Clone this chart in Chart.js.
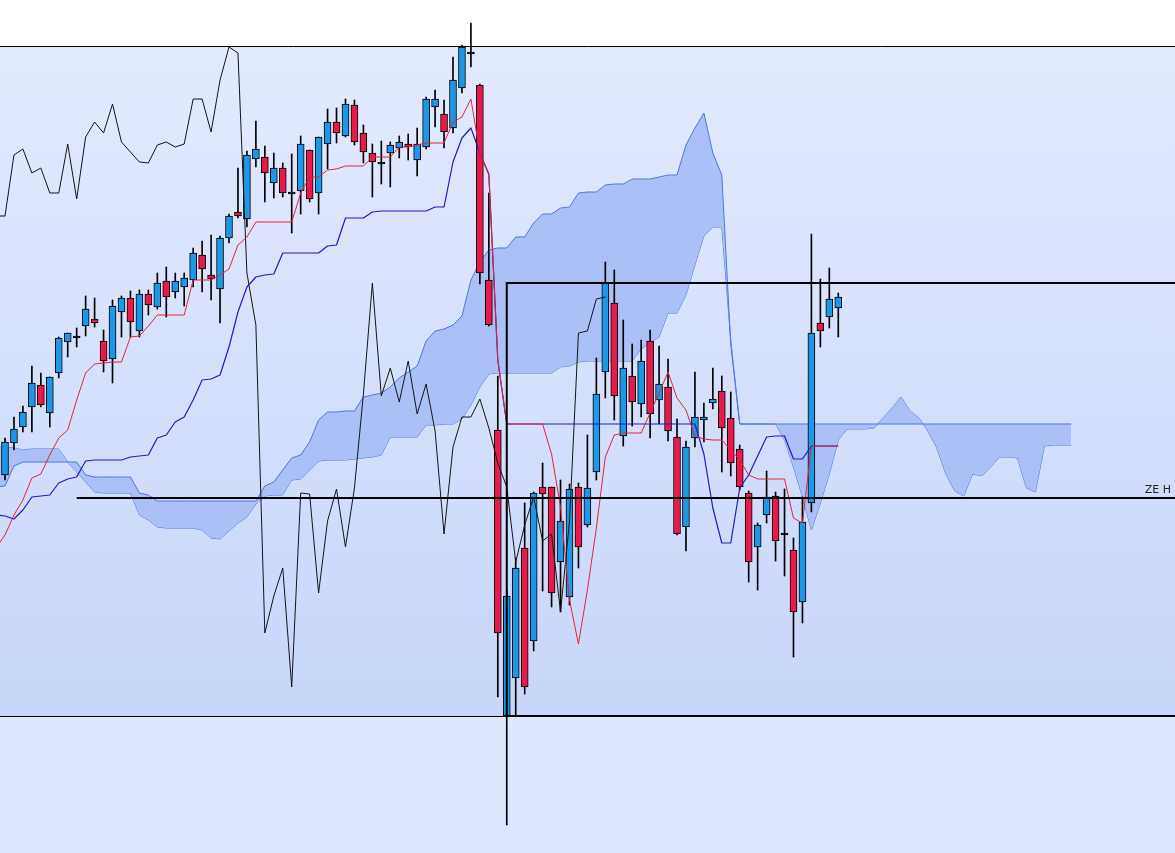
<!DOCTYPE html>
<html><head><meta charset="utf-8">
<script src="https://cdn.jsdelivr.net/npm/chart.js@4.4.1/dist/chart.umd.min.js"></script>
<style>html,body{margin:0;padding:0;background:#fff;overflow:hidden}#wrap{width:1175px;height:853px}</style>
</head><body><div id="wrap"><canvas id="c" width="1175" height="853"></canvas></div>
<script>
// ---- candle data (price points), candle index 0..94 ----
const opens = [
 373,378,410,426,446,468,440,480,511,516,
 527,534,512,494,541,555,522,559,546,572,
 561,566,573,598,578,564,615,641,634,694,
 696,670,685,660,662,703,660,709,731,717,
 748,720,700,690,700,705,709,693,706,746,
 739,725,765,800,768,573,423,137,175,305,
 212,366,366,291,256,366,328,381,481,550,
 417,477,449,512,453,466,416,326,415,433,
 450,462,435,404,360,306,338,357,319,303,
 251,350,530,536,545];
const highs = [
 398,415,436,447,487,480,476,516,520,525,
 557,555,523,553,557,562,563,563,580,586,
 580,580,605,612,618,617,639,685,702,732,
 707,700,690,699,717,703,716,744,745,754,
 753,728,709,712,711,717,719,725,756,763,
 753,796,808,830,769,660,477,263,295,350,
 361,390,366,373,369,370,418,495,591,583,
 533,509,513,523,507,494,434,412,481,450,
 485,477,461,408,362,330,382,361,364,315,
 356,619,574,585,560];
const lows = [
 363,373,403,421,421,446,426,475,496,506,
 517,526,481,470,516,516,516,538,544,536,
 555,547,566,561,553,530,610,635,626,686,
 651,655,656,620,639,651,639,684,710,716,
 708,690,656,669,666,695,693,677,704,726,
 705,720,760,786,569,527,156,28,138,159,
 202,262,246,241,248,285,326,373,455,433,
 407,427,436,415,429,412,318,302,406,411,
 444,381,377,363,271,263,330,292,277,196,
 230,341,506,525,516];
const closes = [
 391,411,424,441,470,448,476,515,520,516,
 544,530,492,547,555,531,559,548,570,556,
 572,575,600,584,574,615,637,637,698,704,
 680,685,660,660,709,654,716,731,720,749,
 711,701,691,690,708,711,706,709,754,754,
 721,773,806,800,580,528,220,257,285,166,
 360,359,260,332,364,306,365,459,570,457,
 485,451,492,439,469,422,319,406,436,436,
 454,425,390,366,291,328,356,312,319,241,
 331,520,522,554,556];

// ---- Ichimoku lines ----
const tenkan = [
 305,318,338,353,375,379,398,415,423,453,
 480,489,490,491,491,516,517,527,538,538,
 538,538,573,573,573,578,584,608,616,631,
 631,631,631,631,660,676,676,683,684,687,
 687,687,696,696,696,706,706,708,710,710,
 710,731,736,754,700,678,493,429,429,429,
 429,429,399,346,253,209,263,325,396,418,
 420,420,420,440,460,481,455,443,417,414,
 413,413,403,393,378,374,374,374,374,335,
 330,407,407,407,407];
const kijun = [
 338,337,334,343,356,357,358,370,374,376,
 392,393,393,393,393,396,397,398,415,418,
 431,436,453,473,474,478,506,541,566,576,
 578,579,600,600,600,600,600,607,608,635,
 635,635,641,642,642,642,642,642,642,646,
 646,691,715,725,700,679,493,429,429,429,
 429,429,429,429,429,429,429,429,429,429,
 429,429,429,429,429,429,429,429,429,399,
 345,310,310,365,378,397,416,417,417,394,
 394,407,407,407,407];
const senkouA = [
 406,406,405,403,404,404,404,404,391,381,
 371,361,360,360,360,360,338,333,326,325,
 325,325,325,323,315,314,322,330,336,349,
 357,358,358,373,374,383,392,393,393,393,
 394,395,396,398,416,416,416,416,428,428,
 429,429,434,448,466,479,480,480,480,480,
 480,480,480,486,487,491,492,492,492,492,
 492,492,504,510,516,540,540,558,588,617,
 626,626,513,429,429,429,429,429,413,386,
 356,323,350,379,413,424,424,424,425,435,
 445,456,442,435,422,405,379,362,357,379,
 377,386,396,396,395,365,361,407,408,408,
 408];
const senkouB = [
 366,367,387,391,391,391,391,391,391,391,
 378,376,376,376,376,376,360,358,352,352,
 352,352,352,352,352,352,352,352,352,352,
 367,371,383,395,398,411,433,441,441,442,
 442,456,458,460,466,475,481,487,512,522,
 524,528,537,573,591,603,605,605,616,616,
 630,639,639,645,646,660,661,661,668,669,
 669,674,674,674,676,678,678,708,725,740,
 700,678,508,429,429,429,429,429,429,429,
 429,429,429,429,429,429,429,429,429,429,
 429,429,429,429,429,429,429,429,429,429,
 429,429,429,429,429,429,429,429,429,429,
 429];
const chikouShift = 26;

// ---- drawn levels ----
const frameTop = 806.5, frameBottom = 137, frameBottomThin = 136.5;
const boxTop = 570, boxStart = 57;
const zoneLevel = 355, zoneStart = 9, zoneLabel = 'ZE H';

const xMin = 0.442, xMax = 131.58, yMin = 0, yMax = 853;

const BULL = '#1e97e6', BEAR = '#e8194b';
const bodyData = opens.map((o, i) => {
  const c = closes[i];
  return {x: i, y: o === c ? [o - 1, o + 1] : [o, c]};
});
const bodyColors = opens.map((o, i) => closes[i] > o ? BULL : (closes[i] < o ? BEAR : '#000'));
const wickData = highs.map((h, i) => ({x: i, y: [lows[i], h]}));
const toPts = arr => arr.map((v, i) => ({x: i, y: v}));
const chikouPts = closes.map((c, k) => ({x: k - chikouShift, y: c})).filter(p => p.x >= 0);

const lineBase = {type: 'line', pointRadius: 0, pointHoverRadius: 0, tension: 0, fill: false, borderJoinStyle: 'round'};

const bgPlugin = {
  id: 'bg',
  beforeDraw(chart) {
    const {ctx, scales: {y}, width, height} = chart;
    const yt = Math.round(y.getPixelForValue(frameTop)), yb = y.getPixelForValue(frameBottom);
    ctx.save();
    const g0 = ctx.createLinearGradient(0, yb, 0, height);
    g0.addColorStop(0, '#dfe7fd'); g0.addColorStop(1, '#dbe5fc');
    ctx.fillStyle = g0; ctx.fillRect(0, 0, width, height);
    ctx.fillStyle = '#ffffff'; ctx.fillRect(0, 0, width, yt);
    const g = ctx.createLinearGradient(0, yt, 0, yb);
    g.addColorStop(0, '#e2eafd'); g.addColorStop(1, '#c8d6fa');
    ctx.fillStyle = g; ctx.fillRect(0, yt, width, yb - yt);
    ctx.restore();
  },
  afterDraw(chart) {
    const {ctx, scales: {y}, chartArea} = chart;
    ctx.save();
    ctx.font = '11px "DejaVu Sans", sans-serif';
    ctx.fillStyle = '#222';
    ctx.textAlign = 'right';
    ctx.textBaseline = 'bottom';
    ctx.fillText(zoneLabel, chartArea.right - 4, y.getPixelForValue(zoneLevel) - 2);
    ctx.restore();
  }
};

new Chart(document.getElementById('c'), {
  type: 'bar',
  data: {datasets: [
    Object.assign({}, lineBase, {label: 'Senkou A', data: toPts(senkouA), borderColor: '#4d76df', borderWidth: 1, order: 10}),
    Object.assign({}, lineBase, {label: 'Senkou B', data: toPts(senkouB), borderColor: '#4d76df', borderWidth: 1, order: 9,
      fill: {target: '-1', above: '#aac0f7', below: '#aac0f7'}}),
    {label: 'Wicks', data: wickData, backgroundColor: '#000', borderWidth: 0, barThickness: 1, grouped: false, order: 6},
    {label: 'Bodies', data: bodyData, backgroundColor: bodyColors, borderColor: '#000', borderWidth: 1,
      borderSkipped: false, barThickness: 7, grouped: false, order: 5},
    Object.assign({}, lineBase, {label: 'Chikou', data: chikouPts, borderColor: '#151515', borderWidth: 1, order: 4}),
    Object.assign({}, lineBase, {label: 'Kijun', data: toPts(kijun), borderColor: '#1c1cc4', borderWidth: 1.2, order: 3}),
    Object.assign({}, lineBase, {label: 'Tenkan', data: toPts(tenkan), borderColor: '#e82335', borderWidth: 1, order: 2}),
    Object.assign({}, lineBase, {label: 'Frame top', data: [{x: xMin, y: frameTop}, {x: xMax, y: frameTop}], borderColor: '#000', borderWidth: 1, order: 1}),
    Object.assign({}, lineBase, {label: 'Frame bottom', data: [{x: xMin, y: frameBottomThin}, {x: boxStart, y: frameBottomThin}], borderColor: '#000', borderWidth: 1, order: 1}),
    Object.assign({}, lineBase, {label: 'Box', data: [{x: xMax, y: boxTop}, {x: boxStart, y: boxTop}, {x: boxStart, y: frameBottom}, {x: xMax, y: frameBottom}],
      borderColor: '#000', borderWidth: 2, borderJoinStyle: 'miter', order: 0}),
    Object.assign({}, lineBase, {label: 'ZE H', data: [{x: zoneStart, y: zoneLevel}, {x: xMax, y: zoneLevel}], borderColor: '#000', borderWidth: 2, order: 0})
  ]},
  options: {
    responsive: false, animation: false, devicePixelRatio: 1,
    layout: {padding: 0},
    plugins: {legend: {display: false}, tooltip: {enabled: false}},
    scales: {
      x: {type: 'linear', min: xMin, max: xMax, display: false, offset: false},
      y: {type: 'linear', min: yMin, max: yMax, display: false}
    }
  },
  plugins: [bgPlugin]
});
</script></body></html>
